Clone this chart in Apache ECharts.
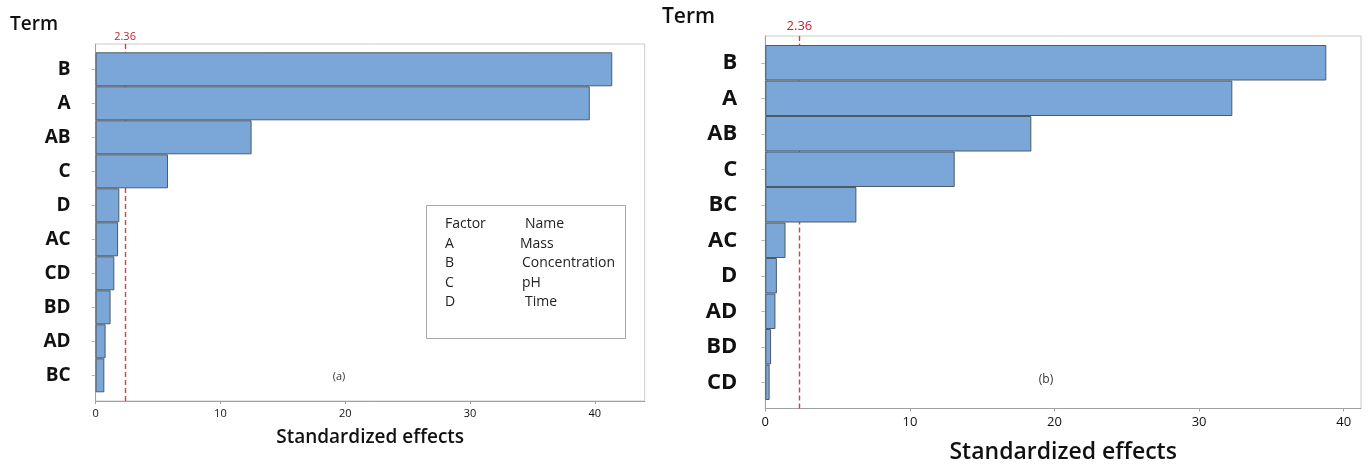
<!DOCTYPE html>
<html>
<head>
<meta charset="utf-8">
<script src="https://cdn.jsdelivr.net/npm/echarts@6/dist/echarts.min.js"></script>
<style>
  html, body { margin: 0; padding: 0; background: #fff; }
  #chart { width: 1368px; height: 466px; }
</style>
</head>
<body>
<div id="chart"></div>
<script>
// Pareto charts of standardized effects, two models side by side.
const termsA = ['B', 'A', 'AB', 'C', 'D', 'AC', 'CD', 'BD', 'AD', 'BC'];
const effectsA = [41.4, 39.6, 12.5, 5.8, 1.9, 1.8, 1.5, 1.2, 0.8, 0.7];

const termsB = ['B', 'A', 'AB', 'C', 'BC', 'AC', 'D', 'AD', 'BD', 'CD'];
const effectsB = [38.8, 32.3, 18.4, 13.1, 6.3, 1.4, 0.8, 0.7, 0.4, 0.3];

const criticalValue = 2.36;
const xTicksA = [0, 10, 20, 30, 40];
const xTicksB = [0, 10, 20, 30, 40];

const factorCodes = ['A', 'B', 'C', 'D'];
const factorNames = ['Mass', 'Concentration', 'pH', 'Time'];

const FONT = '"Open Sans", "Noto Sans", sans-serif';
const BAR_FILL = '#7ba6d8';
const BAR_EDGE = '#4f5a64';
const RED = '#c0262d';

const chart = echarts.init(document.getElementById('chart'), null, { renderer: 'canvas' });

// panel geometry
const P = [
  { frame: { left: 95.6, top: 44, width: 549.1, height: 357 },
    bars:  { left: 95.6, top: 52.3, width: 549.1, height: 340 },
    max: 44, tickFont: 11, catFont: 19, nameFont: 19, nameGap: 27, catMargin: 25,
    thrFont: 11, thrMargin: 2, labelMargin: 7 },
  { frame: { left: 765.3, top: 36, width: 595.7, height: 372.5 },
    bars:  { left: 765.3, top: 45, width: 595.7, height: 355 },
    max: 41.2, tickFont: 13, catFont: 22, nameFont: 23, nameGap: 32, catMargin: 28,
    thrFont: 13, thrMargin: 3, labelMargin: 7 }
];
const panelTerms = [termsA, termsB];
const panelEffects = [effectsA, effectsB];
const panelTicks = [xTicksA, xTicksB];

const grid = [], xAxis = [], yAxis = [], series = [];

P.forEach((p, i) => {
  const gFrame = grid.length;
  grid.push(Object.assign({ show: true, borderColor: '#cacaca', borderWidth: 1,
    backgroundColor: 'transparent', outerBoundsMode: 'none', containLabel: false }, p.frame));
  const gBars = grid.length;
  grid.push(Object.assign({ show: false, outerBoundsMode: 'none', containLabel: false }, p.bars));

  // bottom value axis with ticks and name
  const xFrame = xAxis.length;
  xAxis.push({
    type: 'value', gridIndex: gFrame, position: 'bottom', min: 0, max: p.max,
    axisLine: { show: true, lineStyle: { color: '#a0a0a0', width: 1 } },
    axisTick: { show: true, length: 3, lineStyle: { color: '#a0a0a0' }, customValues: panelTicks[i] },
    axisLabel: { show: true, color: '#111', fontFamily: FONT, fontSize: p.tickFont, margin: p.labelMargin,
                 customValues: panelTicks[i], showMinLabel: true, showMaxLabel: true },
    splitLine: { show: false },
    name: 'Standardized effects', nameLocation: 'middle', nameGap: p.nameGap,
    nameTextStyle: { color: '#111', fontFamily: FONT, fontSize: p.nameFont, fontWeight: 600 }
  });
  // hidden value axis for bars
  const xBars = xAxis.length;
  xAxis.push({ type: 'value', gridIndex: gBars, min: 0, max: p.max, show: false });
  // top axis marking the critical value
  xAxis.push({
    type: 'value', gridIndex: gFrame, position: 'top', min: 0, max: p.max,
    axisLine: { show: false },
    axisTick: { show: true, inside: true, length: 5, lineStyle: { color: RED, width: 1 },
                customValues: [criticalValue] },
    axisLabel: { show: true, color: RED, fontFamily: FONT, fontSize: p.thrFont, margin: p.thrMargin,
                 customValues: [criticalValue], formatter: v => v.toFixed(2) },
    splitLine: { show: false }
  });

  const yFrame = yAxis.length;
  yAxis.push({
    type: 'value', gridIndex: gFrame, min: 0, max: 1,
    axisLine: { show: true, lineStyle: { color: '#a0a0a0', width: 1 } },
    axisTick: { show: false }, axisLabel: { show: false }, splitLine: { show: false }
  });
  const yBars = yAxis.length;
  yAxis.push({
    type: 'category', gridIndex: gBars, inverse: true, data: panelTerms[i],
    axisLine: { show: false },
    axisTick: { show: true, alignWithLabel: true, length: 4, lineStyle: { color: '#b8b8b8' } },
    axisLabel: { color: '#111', fontFamily: FONT, fontSize: p.catFont, fontWeight: 'bold', margin: p.catMargin }
  });

  // dashed reference line at the critical value, kept behind the bars
  series.push({
    type: 'line', xAxisIndex: xFrame, yAxisIndex: yFrame, data: [], z: 1,
    silent: true, animation: false,
    markLine: {
      symbol: 'none', silent: true, animation: false,
      label: { show: false },
      lineStyle: { color: '#e23a40', type: [5, 3], width: 1.4 },
      data: [{ xAxis: criticalValue }]
    }
  });
  series.push({
    type: 'bar', xAxisIndex: xBars, yAxisIndex: yBars, data: panelEffects[i], z: 5,
    barCategoryGap: 0, barWidth: '100%',
    itemStyle: { color: BAR_FILL, borderColor: BAR_EDGE, borderWidth: 1 },
    emphasis: { disabled: true }, silent: true, animation: false
  });
});

// factor key box inside the first panel
const KEY_FONT = `14px ${FONT}`;
const keyRows = [
  { type: 'text', x: 445, y: 224, style: { text: 'Factor', font: KEY_FONT, fill: '#222', verticalAlign: 'middle' } },
  { type: 'text', x: 525, y: 224, style: { text: 'Name', font: KEY_FONT, fill: '#222', verticalAlign: 'middle' } }
];
const nameOffsets = [520, 522, 522, 525];
factorCodes.forEach((c, k) => {
  const y = 244 + k * 19.3;
  keyRows.push({ type: 'text', x: 445, y, style: { text: c, font: KEY_FONT, fill: '#222', verticalAlign: 'middle' } });
  keyRows.push({ type: 'text', x: nameOffsets[k], y, style: { text: factorNames[k], font: KEY_FONT, fill: '#222', verticalAlign: 'middle' } });
});

const graphic = [
  { type: 'text', x: 10, y: 25, style: { text: 'Term', font: `600 19px ${FONT}`, fill: '#111', verticalAlign: 'middle' } },
  { type: 'text', x: 662, y: 17, style: { text: 'Term', font: `600 21px ${FONT}`, fill: '#111', verticalAlign: 'middle' } },
  { type: 'rect', x: 426.5, y: 205.5, shape: { width: 199, height: 133 },
    style: { fill: 'none', stroke: '#a8a8a8', lineWidth: 1 } },
  ...keyRows,
  { type: 'text', x: 339, y: 377, style: { text: '(a)', font: `11px ${FONT}`, fill: '#333', align: 'center', verticalAlign: 'middle' } },
  { type: 'text', x: 1046, y: 380, style: { text: '(b)', font: `12px ${FONT}`, fill: '#333', align: 'center', verticalAlign: 'middle' } }
];

chart.setOption({
  backgroundColor: '#ffffff',
  animation: false,
  grid, xAxis, yAxis, series, graphic
});
</script>
</body>
</html>
